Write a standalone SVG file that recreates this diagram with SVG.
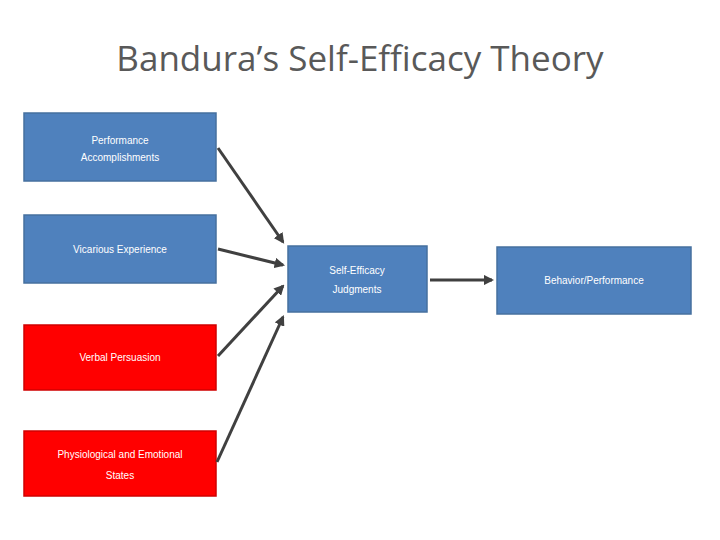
<svg xmlns="http://www.w3.org/2000/svg" width="720" height="540" viewBox="0 0 720 540">
<style>
.title{font-family:"Open Sans","Liberation Sans",sans-serif;font-size:35px;fill:#595959;text-anchor:middle}
.blue{fill:#4F81BD;stroke:#46709F;stroke-width:1.5}
.red{fill:#FF0000;stroke:#D00000;stroke-width:1.5}
.lbl{font-family:"Liberation Sans",Arial,sans-serif;font-size:10px;fill:#FFFFFF;text-anchor:middle}
.conn{stroke:#404040;stroke-width:3;fill:none;marker-end:url(#ah)}
</style>
<defs>
<marker id="ah" viewBox="0 0 10 10" refX="8" refY="5" markerWidth="3.5" markerHeight="3.5" orient="auto">
<path d="M0,0 L10,5 L0,10 z" fill="#404040"/>
</marker>
</defs>
<rect width="720" height="540" fill="#FFFFFF"/>
<text class="title" x="360" y="71">Bandura’s Self-Efficacy Theory</text>
<g id="perf"><rect class="blue" x="24" y="113" width="192" height="68"/>
<text class="lbl" x="120" y="144">Performance</text><text class="lbl" x="120" y="161">Accomplishments</text></g>
<g id="vic"><rect class="blue" x="24" y="215" width="192" height="68"/>
<text class="lbl" x="120" y="253">Vicarious Experience</text></g>
<g id="verbal"><rect class="red" x="24" y="325" width="192" height="65"/>
<text class="lbl" x="120" y="361">Verbal Persuasion</text></g>
<g id="phys"><rect class="red" x="24" y="431" width="192" height="65"/>
<text class="lbl" x="120" y="458">Physiological and Emotional</text><text class="lbl" x="120" y="479">States</text></g>
<g id="judg"><rect class="blue" x="288" y="246" width="139" height="66"/>
<text class="lbl" x="357" y="274">Self-Efficacy</text><text class="lbl" x="357" y="293">Judgments</text></g>
<g id="beh"><rect class="blue" x="497" y="247" width="194" height="67"/>
<text class="lbl" x="594" y="284">Behavior/Performance</text></g>
<g id="connectors">
<line class="conn" x1="218" y1="148" x2="283" y2="242"/>
<line class="conn" x1="218" y1="249" x2="283" y2="265"/>
<line class="conn" x1="218" y1="356" x2="283" y2="286"/>
<line class="conn" x1="217" y1="462" x2="283" y2="317"/>
<line class="conn" x1="430" y1="280" x2="492" y2="280"/>
</g>
</svg>
